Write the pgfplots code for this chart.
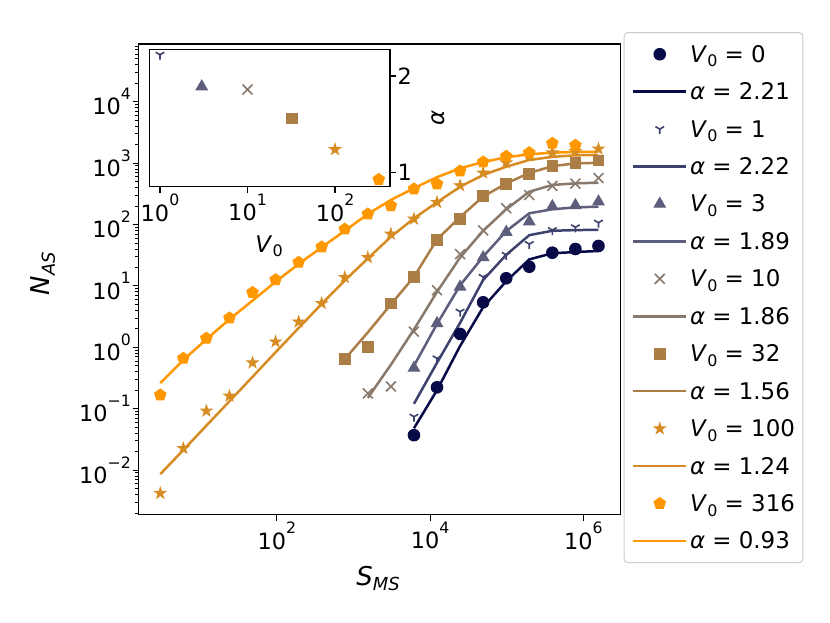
\documentclass[border=0pt]{standalone}
\usepackage{fontspec}
\setmainfont{DejaVu Sans}
\usepackage{pgfplots}
\pgfplotsset{compat=1.18}
\usetikzlibrary{plotmarks}

\definecolor{c0}{RGB}{8,10,72}
\definecolor{c1}{RGB}{60,65,110}
\definecolor{c2}{RGB}{92,94,124}
\definecolor{c3}{RGB}{136,121,108}
\definecolor{c4}{RGB}{170,126,70}
\definecolor{c5}{RGB}{215,140,35}
\definecolor{c6}{RGB}{255,152,0}

\pgfdeclareplotmark{tridown}{%
  \pgfpathmoveto{\pgfpointorigin}\pgfpathlineto{\pgfqpoint{0pt}{-\pgfplotmarksize}}%
  \pgfpathmoveto{\pgfpointorigin}\pgfpathlineto{\pgfqpoint{-0.866\pgfplotmarksize}{0.5\pgfplotmarksize}}%
  \pgfpathmoveto{\pgfpointorigin}\pgfpathlineto{\pgfqpoint{0.866\pgfplotmarksize}{0.5\pgfplotmarksize}}%
  \pgfusepathqstroke}
\pgfdeclareplotmark{fstar}{%
  \pgfpathmoveto{\pgfqpointpolar{90}{\pgfplotmarksize}}%
  \pgfpathlineto{\pgfqpointpolar{126}{0.382\pgfplotmarksize}}%
  \pgfpathlineto{\pgfqpointpolar{162}{\pgfplotmarksize}}%
  \pgfpathlineto{\pgfqpointpolar{198}{0.382\pgfplotmarksize}}%
  \pgfpathlineto{\pgfqpointpolar{234}{\pgfplotmarksize}}%
  \pgfpathlineto{\pgfqpointpolar{270}{0.382\pgfplotmarksize}}%
  \pgfpathlineto{\pgfqpointpolar{306}{\pgfplotmarksize}}%
  \pgfpathlineto{\pgfqpointpolar{342}{0.382\pgfplotmarksize}}%
  \pgfpathlineto{\pgfqpointpolar{18}{\pgfplotmarksize}}%
  \pgfpathlineto{\pgfqpointpolar{54}{0.382\pgfplotmarksize}}%
  \pgfpathclose\pgfusepathqfillstroke}

\newcommand{\tl}[1]{10\raisebox{0.68em}{\fontsize{15.75}{16}\selectfont #1}}
\newcommand{\Vz}{\textit{V}\kern0.3bp\raisebox{-4.5bp}{\fontsize{16}{16}\selectfont 0}}
\newcommand{\al}{\textit{α}}

\pgfplotsset{
  m0/.style={color=c0, only marks, mark=*, mark size=5.8bp, mark options={solid, line width=1bp}},
  m1/.style={color=c1, only marks, mark=tridown, mark size=5bp, mark options={solid, line width=1.6bp}},
  m2/.style={color=c2, only marks, mark=triangle*, mark size=6.5bp, mark options={solid, line width=1bp}},
  m3/.style={color=c3, only marks, mark=x, mark size=7bp, mark options={solid, line width=1.6bp}},
  m4/.style={color=c4, only marks, mark=square*, mark size=5.3bp, mark options={solid, line width=1bp}},
  m5/.style={color=c5, only marks, mark=fstar, mark size=6bp, mark options={solid, line width=0.8bp}},
  m6/.style={color=c6, only marks, mark=pentagon*, mark size=6bp, mark options={solid, line width=1bp}},
  fl/.style={no markers, line width=2.5bp},
}

\begin{document}
\begin{tikzpicture}
\useasboundingbox (0,0) rectangle (830bp,-623bp);
\begin{axis}[
  at={(138.5bp,-514.5bp)}, anchor=south west, scale only axis,
  width=482bp, height=470.5bp,
  xmode=log, ymode=log,
  xmin=1.56, xmax=3.05e6, ymin=1.89e-3, ymax=8.7e4,
  xtick={1e2,1e4,1e6}, xticklabels={\tl{2},\tl{4},\tl{6}},
  xminorticks=false,
  ytick={1e-2,1e-1,1,10,100,1e3,1e4},
  yticklabels={\tl{−2},\tl{−1},\tl{0},\tl{1},\tl{2},\tl{3},\tl{4}},
  minor ytick={2e-3,3e-3,4e-3,5e-3,6e-3,7e-3,8e-3,9e-3,
    2e-2,3e-2,4e-2,5e-2,6e-2,7e-2,8e-2,9e-2,
    0.2,0.3,0.4,0.5,0.6,0.7,0.8,0.9,
    2,3,4,5,6,7,8,9,20,30,40,50,60,70,80,90,
    200,300,400,500,600,700,800,900,
    2000,3000,4000,5000,6000,7000,8000,9000,
    20000,30000,40000,50000,60000,70000,80000},
  tick pos=left, tick align=outside,
  major tick length=6bp, minor tick length=3.5bp,
  every tick/.style={black, line width=1.1bp},
  every minor tick/.style={black, line width=0.8bp},
  axis line style={line width=1.1bp},
  tick label style={font=\fontsize{22.5}{27}\selectfont, inner sep=1.5bp},
  xlabel={\textit{S}\raisebox{-5bp}{\fontsize{18}{18}\selectfont\textit{MS}}},
  ylabel={\textit{N}\raisebox{-5bp}{\fontsize{18}{18}\selectfont\textit{AS}}},
  label style={font=\fontsize{26}{30}\selectfont},
  xlabel style={at={(axis description cs:0.497,-0.135)}, anchor=center},
  ylabel style={at={(axis description cs:-0.198,0.512)}, anchor=center},
  legend cell align=left,
  legend image code/.code={\draw[sharp corners, mark repeat=2, mark phase=2, #1] plot coordinates {(0bp,0bp)(26.5bp,0bp)(53bp,0bp)};},
  legend style={at={(1,1)}, anchor=north west, xshift=3bp, yshift=12bp,
    draw=black!20, line width=1bp, rounded corners=4bp, fill=white,
    inner xsep=8bp, inner ysep=3bp, font=\fontsize{23}{27}\selectfont,
    row sep=0pt, column sep=2.5bp,
    nodes={inner sep=0pt, text height=26.72bp, text depth=10.72bp}},
]
% V0 = 0
\addplot[m0] coordinates {(6144,0.037)(12288,0.223)(24576,1.65)(49152,5.4)(98304,13.3)(196608,20.5)(393216,34.7)(786432,39.9)(1572864,44.7)};
\addlegendentry{{\Vz} = 0}
\addplot[fl, color=c0] coordinates {(6144,0.048)(12288,0.2)(24576,1.05)(49152,4.5)(98304,11.9)(196608,27)(393216,34)(786432,35.6)(1572864,37)};
\addlegendentry{{\al} = 2.21}
% V0 = 1
\addplot[m1] coordinates {(6144,0.074)(12288,0.66)(24576,3.8)(49152,14)(98304,32)(196608,48)(393216,81)(786432,90)(1572864,107)};
\addlegendentry{{\Vz} = 1}
\addplot[fl, color=c1] coordinates {(6144,0.12)(12288,0.56)(24576,2.5)(49152,12.5)(98304,32)(196608,67)(393216,79)(786432,81)(1572864,82)};
\addlegendentry{{\al} = 2.22}
% V0 = 3
\addplot[m2] coordinates {(6144,0.46)(12288,2.45)(24576,9.6)(49152,29)(98304,75)(196608,111)(393216,197)(786432,205)(1572864,235)};
\addlegendentry{{\Vz} = 3}
\addplot[fl, color=c2] coordinates {(6144,0.5)(12288,2.4)(24576,10.2)(49152,30)(98304,78)(196608,152)(393216,177)(786432,190)(1572864,195)};
\addlegendentry{{\al} = 1.89}
% V0 = 10
\addplot[m3] coordinates {(1536,0.178)(3072,0.23)(6144,1.8)(12288,8.5)(24576,33)(49152,80)(98304,184)(196608,302)(393216,426)(786432,462)(1572864,570)};
\addlegendentry{{\Vz} = 10}
\addplot[fl, color=c3] coordinates {(1536,0.15)(3072,0.52)(6144,1.95)(12288,8.0)(24576,29)(49152,79)(98304,177)(196608,342)(393216,440)(786432,468)(1572864,479)};
\addlegendentry{{\al} = 1.86}
% V0 = 32
\addplot[m4] coordinates {(768,0.64)(1536,1.02)(3072,5.2)(6144,14)(12288,56)(24576,123)(49152,288)(98304,457)(196608,660)(393216,897)(786432,993)(1572864,1094)};
\addlegendentry{{\Vz} = 32}
\addplot[fl, color=c4] coordinates {(768,0.64)(1536,1.75)(3072,5.0)(6144,14)(12288,57)(24576,132)(49152,285)(98304,465)(196608,690)(393216,890)(786432,990)(1572864,1010)};
\addlegendentry{{\al} = 1.56}
% V0 = 100
\addplot[m5] coordinates {(3,0.0042)(6,0.0226)(12,0.092)(24,0.161)(48,0.56)(96,1.23)(192,2.6)(384,5.2)(768,13.8)(1536,29)(3072,70)(6144,123)(12288,230)(24576,430)(49152,690)(98304,1014)(196608,1318)(393216,1480)(786432,1550)(1572864,1700)};
\addlegendentry{{\Vz} = 100}
\addplot[fl, color=c5] coordinates {(3,0.0086)(6,0.0212)(12,0.053)(24,0.132)(48,0.33)(96,0.83)(192,2.06)(384,5.1)(768,12.2)(1536,28)(3072,63)(6144,126)(12288,230)(24576,412)(49152,640)(98304,873)(196608,1123)(393216,1264)(786432,1340)(1572864,1350)};
\addlegendentry{{\al} = 1.24}
% V0 = 316
\addplot[m6] coordinates {(3,0.167)(6,0.66)(12,1.4)(24,3.0)(48,7.8)(96,12.6)(192,24.2)(384,43)(768,84)(1536,148)(3072,202)(6144,379)(12288,457)(24576,743)(49152,1042)(98304,1290)(196608,1476)(393216,2100)(786432,1950)};
\addlegendentry{{\Vz} = 316}
\addplot[fl, color=c6] coordinates {(3,0.26)(6,0.62)(12,1.35)(24,2.86)(48,5.75)(96,11.7)(192,22.7)(384,42.6)(768,79)(1536,148)(3072,251)(6144,390)(12288,590)(24576,822)(49152,1042)(98304,1243)(196608,1390)(393216,1478)(786432,1515)(1572864,1534)};
\addlegendentry{{\al} = 0.93}
\end{axis}

\begin{axis}[
  at={(149.5bp,-186.5bp)}, anchor=south west, scale only axis,
  width=240.5bp, height=137.2bp,
  xmode=log, xmin=0.759, xmax=425, ymin=0.857, ymax=2.276,
  xtick={1,10,100}, xticklabels={\tl{0},\tl{1},\tl{2}}, xminorticks=false,
  ytick={1,2}, yticklabels={1,2}, yminorticks=false,
  xtick pos=left, ytick pos=right, yticklabel pos=right, tick align=outside,
  major tick length=6bp,
  every tick/.style={black, line width=1.1bp},
  axis line style={line width=1.1bp},
  axis background/.style={fill=white},
  tick label style={font=\fontsize{22.5}{27}\selectfont, inner sep=1.5bp},
  xlabel={\Vz}, ylabel={\al},
  label style={font=\fontsize{23}{27}\selectfont},
  xlabel style={at={(axis description cs:0.497,-0.434)}, anchor=center},
  ylabel style={at={(axis description cs:1.2,0.5)}, anchor=center},
]
\addplot[m1] coordinates {(1,2.22)};
\addplot[m2] coordinates {(3,1.89)};
\addplot[m3] coordinates {(10,1.86)};
\addplot[m4] coordinates {(32,1.56)};
\addplot[m5] coordinates {(100,1.24)};
\addplot[m6] coordinates {(316,0.93)};
\end{axis}
\end{tikzpicture}
\end{document}
